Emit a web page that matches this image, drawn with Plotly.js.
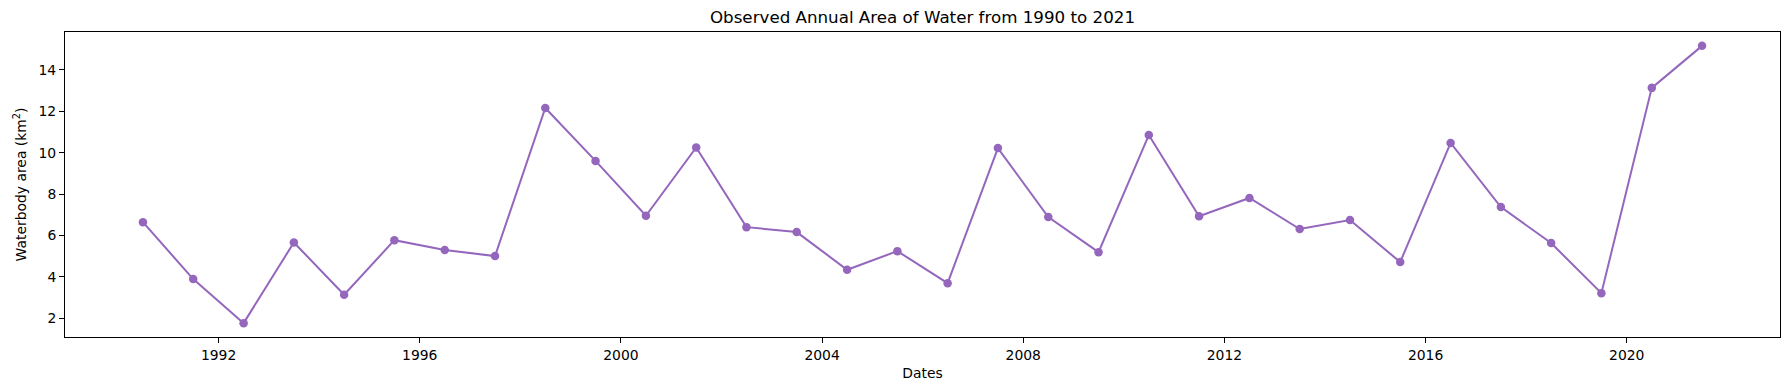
<!DOCTYPE html>
<html>
<head>
<meta charset="utf-8">
<script src="https://cdn.plot.ly/plotly-3.0.1.min.js"></script>
<style>html,body{margin:0;padding:0;background:#fff;}#chart{width:1790px;height:390px;}</style>
</head>
<body>
<div id="chart"></div>
<script>
const years = [1990,1991,1992,1993,1994,1995,1996,1997,1998,1999,2000,2001,2002,2003,2004,2005,2006,2007,2008,2009,2010,2011,2012,2013,2014,2015,2016,2017,2018,2019,2020,2021];
const areas = [6.64,3.89,1.76,5.66,3.13,5.77,5.29,5.00,12.16,9.60,6.95,10.25,6.40,6.16,4.34,5.24,3.69,10.22,6.89,5.19,10.85,6.93,7.81,6.31,6.74,4.71,10.47,7.37,5.63,3.21,13.13,15.16];
const dates = years.map(y => y + '-07-01');
const tickYears = [1992,1996,2000,2004,2008,2012,2016,2020];

// matplotlib-like 5% margins
const t0 = Date.parse(dates[0]), t1 = Date.parse(dates[dates.length-1]);
const dt = (t1 - t0) * 0.05;
const iso = t => new Date(t).toISOString().slice(0,19).replace('T',' ');
const ymin = Math.min(...areas), ymax = Math.max(...areas);
const dy = (ymax - ymin) * 0.05;

const font = {family: 'DejaVu Sans', size: 13.9, color: '#000'};
const trace = {
  x: dates, y: areas, type: 'scatter', mode: 'lines+markers',
  line: {color: '#9467bd', width: 2},
  marker: {color: '#9467bd', size: 8.5},
  hoverinfo: 'skip'
};
const layout = {
  width: 1790, height: 390,
  margin: {l: 65, r: 10, t: 32, b: 53},
  paper_bgcolor: '#fff', plot_bgcolor: '#fff',
  font: font,
  showlegend: false,
  title: {text: 'Observed Annual Area of Water from 1990 to 2021', font: {family: 'DejaVu Sans', size: 16.7, color: '#000'},
          xref: 'paper', x: 0.5, xanchor: 'center', yref: 'container', y: 1 - 17/390, yanchor: 'middle'},
  xaxis: {
    type: 'date', range: [iso(t0 - dt), iso(t1 + dt)],
    tickmode: 'array', tickvals: tickYears.map(y => y + '-01-01'), ticktext: tickYears.map(String),
    ticks: 'outside', ticklen: 5, tickwidth: 1, tickcolor: '#000',
    showline: true, linecolor: '#000', linewidth: 1, mirror: true,
    showgrid: false, zeroline: false, tickfont: font,
    title: {text: 'Dates', font: font, standoff: 6}, automargin: false
  },
  yaxis: {
    range: [ymin - dy, ymax + dy],
    tickmode: 'linear', tick0: 2, dtick: 2,
    ticks: 'outside', ticklen: 5, tickwidth: 1, tickcolor: '#000',
    showline: true, linecolor: '#000', linewidth: 1, mirror: true,
    showgrid: false, zeroline: false, tickfont: font,
    title: {text: 'Waterbody area (km<sup>2</sup>)', font: font, standoff: 8}, automargin: false
  }
};
Plotly.newPlot('chart', [trace], layout, {displayModeBar: false, staticPlot: true});
</script>
</body>
</html>
